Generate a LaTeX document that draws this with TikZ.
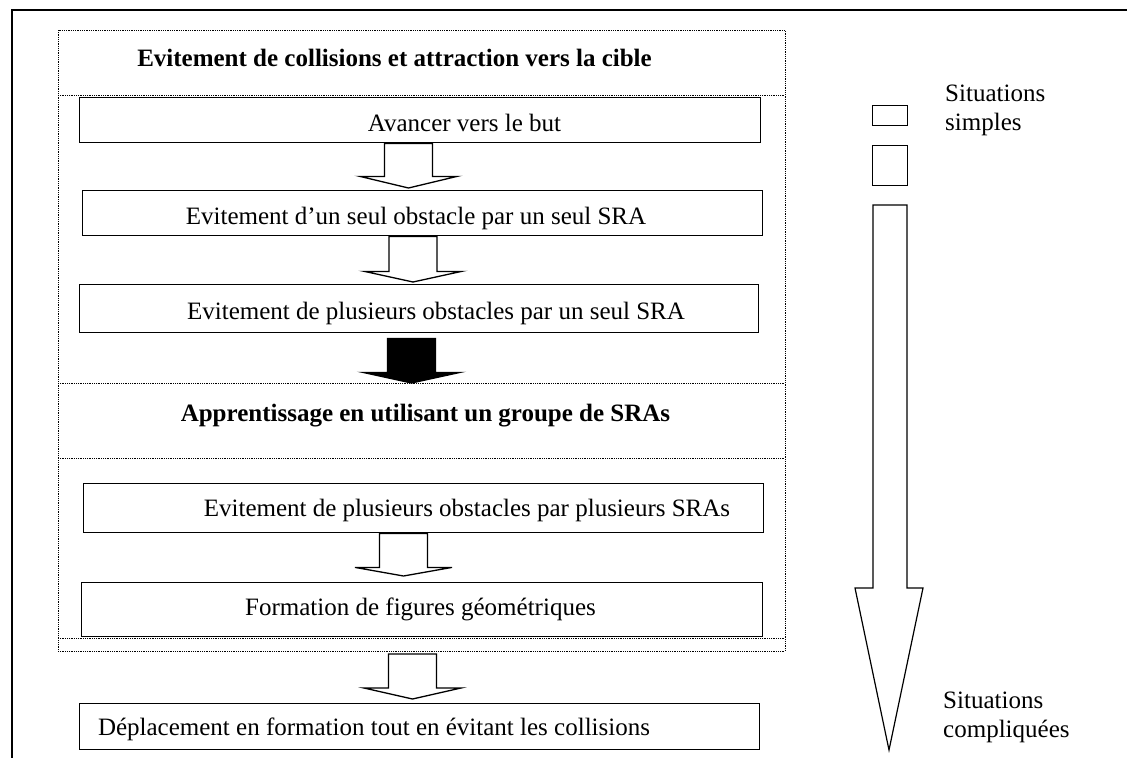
\documentclass[tikz,border=0pt]{standalone}
\usepackage{fontspec}
\setmainfont{Liberation Serif}
\usetikzlibrary{calc}

% downward block arrow: style, centre coordinate, upper anchor, start gap,
% lower anchor, tip gap, shaft length
\newcommand\blockdown[7]{%
  \draw[#1]
    ($(#2 |- #3)+(-24,#4)$) -- ($(#2 |- #3)+(-24,#4+#7)$)
    -- ($(#2 |- #3)+(-48.5,#4+#7)$) -- ($(#2 |- #5)+(0,-#6)$)
    -- ($(#2 |- #3)+(48.5,#4+#7)$) -- ($(#2 |- #3)+(24,#4+#7)$)
    -- ($(#2 |- #3)+(24,#4)$) -- cycle;
}

\begin{document}
\begin{tikzpicture}[x=1pt,y=-1pt,
  box/.style={draw, line width=1.4pt, fill=white, inner sep=0pt, anchor=north west},
  zone/.style={draw, line width=0.9pt, dash pattern=on 0.9pt off 0.9pt},
  lbl/.style={inner sep=0pt, anchor=base, font=\fontsize{25}{29}\selectfont},
  ttl/.style={lbl, font=\fontsize{25}{29}\selectfont\bfseries},
  side/.style={inner sep=0pt, anchor=base west, align=left, font=\fontsize{25}{29}\selectfont},
  hollow/.style={draw, line width=1.3pt, fill=white, line join=miter},
  blackarrow/.style={draw, line width=1.3pt, fill=black, line join=miter},
  gauge/.style={draw, line width=1.3pt, fill=white, inner sep=0pt, anchor=north west},
]
\useasboundingbox (0,0) rectangle (1127,758);
\fill[white] (0,0) rectangle (1127,758);

% page frame
\draw[line width=1.6pt] (1127,10) -- (12,10) -- (12,758);

% dotted sections
\coordinate (sec1) at (58,30);
\coordinate (sec2) at (58,383);
\coordinate (secend) at (58,651);
\draw[zone] (sec1) rectangle (785,651);
\draw[zone] (58,95) -- (785,95);
\draw[zone] (sec2) -- (785,383);
\draw[zone] (58,458) -- (785,458);
\draw[zone] (58,638) -- (785,638);

\node[ttl] (t1) at (394.5,66.5) {Evitement de collisions et attraction vers la cible};
\node[ttl] (t2) at (425.5,421.5) {Apprentissage en utilisant un groupe de SRAs};

% step boxes
\node[box, minimum width=681pt, minimum height=45pt] (b1) at (79,97) {};
\node[box, minimum width=680pt, minimum height=45pt] (b2) at (82,190) {};
\node[box, minimum width=679pt, minimum height=48pt] (b3) at (79,284) {};
\node[box, minimum width=680pt, minimum height=49pt] (b4) at (83,483) {};
\node[box, minimum width=681pt, minimum height=54pt] (b5) at (81,582) {};
\node[box, minimum width=680pt, minimum height=46pt] (b6) at (79,703) {};

\node[lbl] (l1) at (464.5,131) {Avancer vers le but};
\node[lbl] (l2) at (416,224) {Evitement d’un seul obstacle par un seul SRA};
\node[lbl] (l3) at (436,319) {Evitement de plusieurs obstacles par un seul SRA};
\node[lbl] (l4) at (467,516.5) {Evitement de plusieurs obstacles par plusieurs SRAs};
\node[lbl] (l5) at (420.5,615) {Formation de figures géométriques};
\node[lbl] (l6) at (374,735.5) {Déplacement en formation tout en évitant les collisions};

% arrows between steps
\coordinate (c1) at (408.5,0);
\coordinate (c2) at (413,0);
\coordinate (c3) at (411.5,0);
\coordinate (c4) at (403.5,0);
\coordinate (c5) at (412.5,0);
\blockdown{hollow}{c1}{b1.south}{0}{b2.north}{2}{33}
\blockdown{hollow}{c2}{b2.south}{0}{b3.north}{2}{35}
\blockdown{blackarrow}{c3}{b3.south}{5}{sec2}{0}{34}
\blockdown{hollow}{c4}{b4.south}{0}{b5.north}{6}{34}
\blockdown{hollow}{c5}{secend}{3}{b6.north}{4}{34}

% complexity scale
\node[gauge, minimum width=35pt, minimum height=20pt] (r1) at (872,105) {};
\node[gauge, minimum width=35pt, minimum height=40pt] (r2) at (872,145) {};
\draw[hollow, line width=1.2pt] (873,205) -- (873,588) -- (855,588) -- (889,750)
  -- (923,588) -- (907,588) -- (907,205) -- cycle;

\node[side] (s1) at (945,130) {Situations\\simples};
\node[side] (s2) at (943,737) {Situations\\compliquées};
\end{tikzpicture}
\end{document}
